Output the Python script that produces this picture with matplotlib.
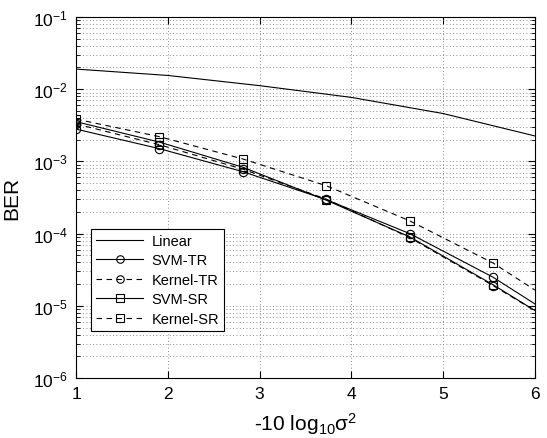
import matplotlib
matplotlib.use("Agg")
import matplotlib.pyplot as plt
import numpy as np

plt.rcParams['font.family'] = ['Liberation Sans', 'DejaVu Sans']
plt.rcParams['mathtext.fontset'] = 'custom'
plt.rcParams['mathtext.rm'] = 'Liberation Sans'
plt.rcParams['mathtext.it'] = 'Liberation Sans:italic'
plt.rcParams['mathtext.bf'] = 'Liberation Sans:bold'
plt.rcParams['mathtext.sf'] = 'Liberation Sans'

# Data
x_linear = [1, 2, 3, 4, 5, 6]
ber_linear = [0.019, 0.0155, 0.0112, 0.0077, 0.0046, 0.00225]

x_pts = [1, 1.909, 2.818, 3.727, 4.636, 5.545, 6]
ber_svm_tr = [2.8e-3, 1.5e-3, 7.2e-4, 2.95e-4, 1.0e-4, 2.48e-5, 1.06e-5]
ber_kernel_tr = [3.3e-3, 1.7e-3, 7.8e-4, 3.0e-4, 8.8e-5, 1.9e-5, 8.5e-6]
ber_svm_sr = [3.55e-3, 1.85e-3, 8.3e-4, 2.9e-4, 9.0e-5, 1.95e-5, 8.6e-6]
ber_kernel_sr = [3.85e-3, 2.2e-3, 1.08e-3, 4.6e-4, 1.5e-4, 3.9e-5, 1.65e-5]

xticks = [1, 2, 3, 4, 5, 6]
ylim = (1e-6, 1e-1)

fig = plt.figure(figsize=(5.47, 4.39), dpi=100)
ax = fig.add_axes([0.139, 0.1367, 0.839, 0.8223])

lw = 0.8
mk = dict(markersize=6, markerfacecolor='none', markeredgecolor='black', markeredgewidth=0.8,
          markevery=[0, 1, 2, 3, 4, 5])
ax.semilogy(x_linear, ber_linear, '-', color='black', lw=lw, label='Linear')
ax.semilogy(x_pts, ber_svm_tr, '-', marker='o', color='black', lw=lw, label='SVM-TR', **mk)
ax.semilogy(x_pts, ber_kernel_tr, '--', marker='o', color='black', lw=lw, label='Kernel-TR',
            dashes=(5, 4), **mk)
ax.semilogy(x_pts, ber_svm_sr, '-', marker='s', color='black', lw=lw, label='SVM-SR', **mk)
ax.semilogy(x_pts, ber_kernel_sr, '--', marker='s', color='black', lw=lw, label='Kernel-SR',
            dashes=(5, 4), **mk)

ax.set_xlim(1, 6)
ax.set_ylim(*ylim)
ax.set_xticks(xticks)
ax.set_xticklabels([str(t) for t in xticks])
ax.set_yticks([1e-6, 1e-5, 1e-4, 1e-3, 1e-2, 1e-1])
ax.set_yticklabels([r'$10^{-%d}$' % k for k in [6, 5, 4, 3, 2, 1]])

ax.grid(True, which='major', axis='both', color='#666666', linestyle=(0, (1, 3)), lw=0.6)
ax.grid(True, which='minor', axis='y', color='#666666', linestyle=(0, (1, 3)), lw=0.6)
ax.tick_params(which='both', direction='in', top=True, right=True, labelsize=12.5, pad=6)
ax.tick_params(which='major', length=5)
ax.tick_params(which='minor', length=3)
for s in ax.spines.values():
    s.set_linewidth(0.8)

ax.set_xlabel('-10 log$_{10}$σ$^{2}$', fontsize=15, labelpad=6)
ax.set_ylabel('BER', fontsize=15, labelpad=8)

leg = ax.legend(loc='lower left', bbox_to_anchor=(0.033, 0.13), fontsize=10.5, frameon=True,
                fancybox=False, edgecolor='black', framealpha=1, borderpad=0.35,
                handlelength=3.2, labelspacing=0.38, handletextpad=0.6, borderaxespad=0,
                markerscale=0.9)
leg.get_frame().set_linewidth(0.8)

fig.savefig('out.png', dpi=100)
